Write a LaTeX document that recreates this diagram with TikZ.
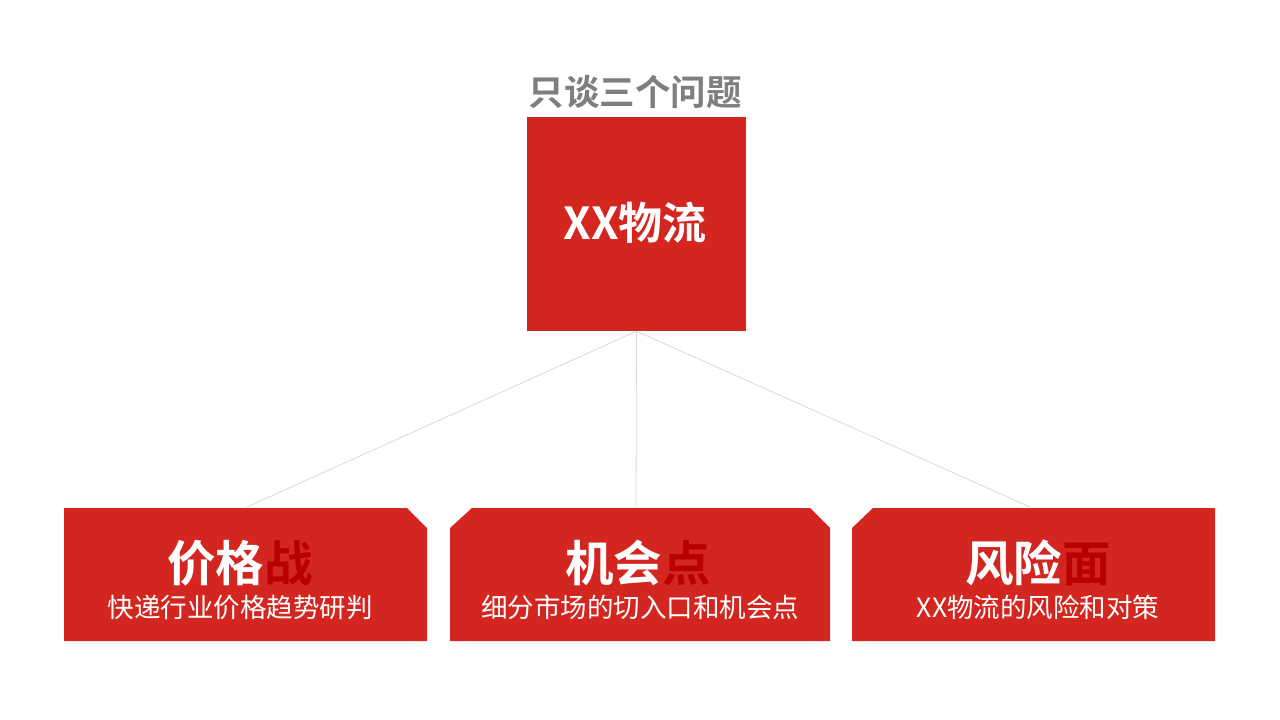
\documentclass[tikz,border=0pt]{standalone}
\usepackage{fontspec}
\newfontfamily\cjkb{Noto Sans CJK SC Bold}
\newfontfamily\cjkr{Noto Sans CJK SC}
\definecolor{boxred}{HTML}{D42620}
\definecolor{darkred}{HTML}{B80000}
\definecolor{titlegray}{HTML}{7F7F7F}
\definecolor{linegray}{HTML}{D9D9D9}
\begin{document}
\begin{tikzpicture}[x=1pt,y=-1pt,
  conn/.style={draw=linegray,line width=0.8pt},
  redfill/.style={fill=boxred,draw=none},
  bigtxt/.style={text=white,font=\cjkb\fontsize{48.5}{52}\selectfont,inner sep=0pt},
  subtxt/.style={text=white,font=\cjkr\fontsize{26.5}{30}\selectfont,inner sep=0pt}]
\useasboundingbox[fill=white] (0,0) rectangle (1280,720);
% title
\node[text=titlegray,font=\cjkb\fontsize{35.5}{38}\selectfont,inner sep=0pt] (title) at (635,92) {只谈三个问题};
% top box
\node[redfill,minimum width=219pt,minimum height=214pt,inner sep=0pt] (top) at (636.5,224) {};
\node[text=white,font=\cjkb\fontsize{44}{48}\selectfont,inner sep=0pt] (toptxt) at (635,223) {XX物流};
% bottom boxes
\fill[boxred] (64,508) -- (407,508) -- (427,528) -- (427,641) -- (64,641) -- cycle;
\fill[boxred] (472,508) -- (810,508) -- (830,528) -- (830,641) -- (450,641) -- (450,528) -- cycle;
\fill[boxred] (873,508) -- (1215,508) -- (1215,641) -- (852,641) -- (852,528) -- cycle;
\coordinate (b1) at (247,507);
\coordinate (b2) at (636,507);
\coordinate (b3) at (1030,507);
\draw[conn] (top.south) -- (b1);
\draw[conn] (top.south) -- (b2);
\draw[conn] (top.south) -- (b3);
% texts
\node[bigtxt] (t1) at (240,563) {价格\textcolor{darkred}{战}};
\node[subtxt] (s1) at (240,607) {快递行业价格趋势研判};
\node[bigtxt] (t2) at (638,563) {机会\textcolor{darkred}{点}};
\node[subtxt] (s2) at (640,607) {细分市场的切入口和机会点};
\node[bigtxt] (t3) at (1038,563) {风险\textcolor{darkred}{面}};
\node[subtxt] (s3) at (1038,607) {XX物流的风险和对策};
\end{tikzpicture}
\end{document}
